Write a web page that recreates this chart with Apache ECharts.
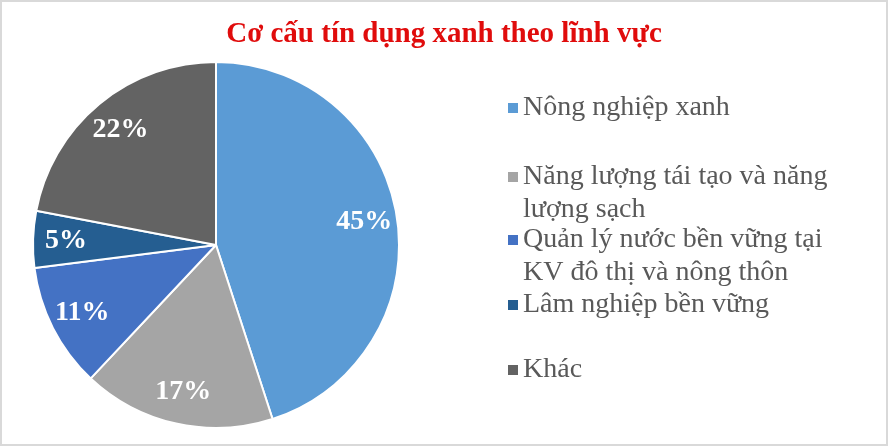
<!DOCTYPE html>
<html>
<head>
<meta charset="utf-8">
<script src="https://cdn.jsdelivr.net/npm/echarts@6/dist/echarts.min.js"></script>
<style>
  html, body { margin: 0; padding: 0; background: #ffffff; }
  #wrap { position: relative; width: 888px; height: 446px; }
  #chart { position: absolute; left: 0; top: 0; width: 888px; height: 446px; }
  #frame { position: absolute; left: 0; top: 0; width: 888px; height: 446px; box-sizing: border-box; border: 2px solid #D9D9D9; pointer-events: none; }
</style>
</head>
<body>
<div id="wrap"><div id="chart"></div><div id="frame"></div></div>
<script>
const titleText = 'Cơ cấu tín dụng xanh theo lĩnh vực';
const categories = [
  'Nông nghiệp xanh',
  'Năng lượng tái tạo và năng lượng sạch',
  'Quản lý nước bền vững tại KV đô thị và nông thôn',
  'Lâm nghiệp bền vững',
  'Khác'
];
const legendLines = [
  ['Nông nghiệp xanh'],
  ['Năng lượng tái tạo và năng', 'lượng sạch'],
  ['Quản lý nước bền vững tại', 'KV đô thị và nông thôn'],
  ['Lâm nghiệp bền vững'],
  ['Khác']
];
const values = [45, 17, 11, 5, 22];
const colors = ['#5B9BD5', '#A5A5A5', '#4472C4', '#255E91', '#636363'];

const serif = '"Liberation Serif", "Times New Roman", serif';
const LH = 33;
const legendTops = [91.5, 127.5, 190.5, 288.5, 353.5];

const pieData = categories.map((n, i) => ({ name: n, value: values[i], itemStyle: { color: colors[i] } }));
const labelData = categories.map((n, i) => ({ name: n, value: values[i] }));

const legends = categories.map((n, i) => {
  const lines = legendLines[i];
  // a leading blank line keeps the marker level with the first text line
  const text = lines.length > 1 ? '\n' + lines.join('\n') : lines[0];
  return {
    data: [n],
    left: 508,
    top: legendTops[i],
    padding: 0,
    icon: 'rect',
    itemWidth: 10,
    itemHeight: 10,
    itemGap: 0,
    selectedMode: false,
    itemStyle: { borderWidth: 0 },
    formatter: () => text,
    textStyle: {
      fontFamily: serif,
      fontSize: 28,
      color: '#595959',
      lineHeight: LH
    }
  };
});

const chart = echarts.init(document.getElementById('chart'), null, { renderer: 'canvas' });
chart.setOption({
  backgroundColor: '#ffffff',
  animation: false,
  title: {
    text: titleText,
    left: 'center',
    top: 18,
    padding: 0,
    textStyle: { fontFamily: serif, fontSize: 29, fontWeight: 'bold', color: '#E00C0C', lineHeight: 34 }
  },
  legend: legends,
  series: [
    {
      type: 'pie',
      center: [216, 245],
      radius: [0, 183],
      startAngle: 90,
      clockwise: true,
      data: pieData,
      itemStyle: { borderColor: '#ffffff', borderWidth: 2 },
      label: { show: false },
      labelLine: { show: false },
      emphasis: { disabled: true }
    },
    {
      type: 'pie',
      center: [216, 245],
      radius: [111, 183],
      startAngle: 90,
      clockwise: true,
      silent: true,
      data: labelData,
      itemStyle: { color: 'rgba(0,0,0,0)', borderWidth: 0 },
      label: {
        show: true,
        position: 'inside',
        formatter: '{c}%',
        color: '#ffffff',
        fontFamily: serif,
        fontSize: 28,
        fontWeight: 'bold'
      },
      labelLine: { show: false },
      emphasis: { disabled: true }
    }
  ]
});
</script>
</body>
</html>
